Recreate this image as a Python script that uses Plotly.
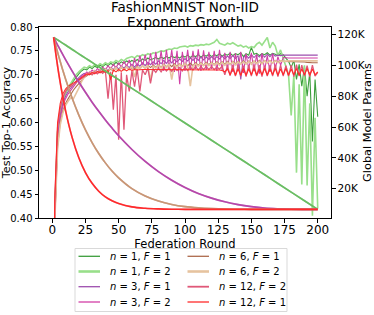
import plotly.graph_objects as go

# ---------------- data ----------------
rounds = list(range(0, 201, 2))

acc_n1_f1 = [0.10, 0.43, 0.585, 0.625, 0.648, 0.662, 0.672, 0.680, 0.688, 0.695,
             0.702, 0.708, 0.712, 0.710, 0.716, 0.713, 0.718, 0.715, 0.720, 0.717,
             0.722, 0.719, 0.724, 0.720, 0.726, 0.722, 0.727, 0.724, 0.729, 0.726,
             0.730, 0.727, 0.732, 0.728, 0.733, 0.730, 0.735, 0.731, 0.734, 0.736,
             0.733, 0.737, 0.734, 0.738, 0.735, 0.739, 0.736, 0.738, 0.735, 0.740,
             0.737, 0.741, 0.736, 0.740, 0.738, 0.742, 0.737, 0.741, 0.739, 0.743,
             0.738, 0.742, 0.740, 0.744, 0.739, 0.743, 0.741, 0.745, 0.740, 0.744,
             0.742, 0.746, 0.738, 0.744, 0.741, 0.757, 0.743, 0.745, 0.740, 0.744,
             0.742, 0.746, 0.741, 0.745, 0.743, 0.740, 0.744, 0.742, 0.735, 0.728,
             0.715, 0.730, 0.690, 0.722, 0.676, 0.718, 0.655, 0.705, 0.560, 0.690,
             0.612]

acc_n1_f2 = [0.10, 0.42, 0.580, 0.622, 0.646, 0.662, 0.673, 0.683, 0.692, 0.700,
             0.706, 0.712, 0.716, 0.714, 0.719, 0.716, 0.721, 0.718, 0.723, 0.720,
             0.725, 0.722, 0.727, 0.725, 0.730, 0.727, 0.732, 0.729, 0.734, 0.736,
             0.738, 0.735, 0.740, 0.738, 0.742, 0.740, 0.744, 0.742, 0.746, 0.745,
             0.748, 0.750, 0.749, 0.752, 0.754, 0.753, 0.756, 0.755, 0.758, 0.759,
             0.760, 0.758, 0.761, 0.760, 0.762, 0.761, 0.763, 0.762, 0.764, 0.763,
             0.765, 0.768, 0.774, 0.766, 0.764, 0.762, 0.766, 0.764, 0.767, 0.763,
             0.760, 0.762, 0.758, 0.760, 0.756, 0.759, 0.757, 0.764, 0.768, 0.762,
             0.770, 0.778, 0.756, 0.768, 0.760, 0.740, 0.752, 0.735, 0.722, 0.700,
             0.615, 0.700, 0.495, 0.680, 0.470, 0.720, 0.468, 0.640, 0.405, 0.610,
             0.420]

acc_n3_f1 = [0.10, 0.41, 0.570, 0.615, 0.640, 0.655, 0.665, 0.672, 0.680, 0.688,
             0.694, 0.699, 0.703, 0.700, 0.706, 0.703, 0.709, 0.706, 0.711, 0.708,
             0.713, 0.709, 0.715, 0.711, 0.717, 0.712, 0.718, 0.714, 0.720, 0.715,
             0.722, 0.716, 0.723, 0.718, 0.725, 0.719, 0.726, 0.721, 0.727, 0.722,
             0.729, 0.723, 0.730, 0.724, 0.731, 0.725, 0.732, 0.727, 0.733, 0.728,
             0.734, 0.729, 0.735, 0.730, 0.736, 0.730, 0.737, 0.731, 0.737, 0.732,
             0.738, 0.732, 0.738, 0.733, 0.739, 0.733, 0.739, 0.734, 0.740, 0.734,
             0.740, 0.690, 0.736, 0.741, 0.735, 0.742, 0.736, 0.742, 0.737, 0.743,
             0.737, 0.743, 0.738, 0.744, 0.739, 0.741, 0.740, 0.741, 0.741, 0.741,
             0.741, 0.741, 0.741, 0.741, 0.741, 0.741, 0.741, 0.741, 0.741, 0.741,
             0.741]

acc_n3_f2 = [0.10, 0.40, 0.565, 0.610, 0.635, 0.650, 0.660, 0.668, 0.676, 0.684,
             0.690, 0.696, 0.700, 0.706, 0.702, 0.710, 0.705, 0.713, 0.708, 0.716,
             0.710, 0.719, 0.712, 0.722, 0.714, 0.725, 0.716, 0.728, 0.718, 0.731,
             0.712, 0.735, 0.716, 0.740, 0.718, 0.742, 0.714, 0.745, 0.712, 0.748,
             0.710, 0.750, 0.708, 0.752, 0.712, 0.752, 0.706, 0.750, 0.680, 0.748,
             0.708, 0.752, 0.710, 0.750, 0.712, 0.753, 0.708, 0.751, 0.710, 0.748,
             0.712, 0.750, 0.708, 0.752, 0.710, 0.746, 0.712, 0.748, 0.706, 0.745,
             0.710, 0.748, 0.704, 0.744, 0.712, 0.746, 0.708, 0.742, 0.702, 0.745,
             0.710, 0.740, 0.706, 0.744, 0.712, 0.738, 0.720, 0.736, 0.735, 0.735,
             0.735, 0.735, 0.735, 0.735, 0.735, 0.735, 0.735, 0.735, 0.735, 0.735,
             0.735]

acc_n6_f1 = [0.10, 0.40, 0.550, 0.600, 0.625, 0.640, 0.650, 0.660, 0.668, 0.675,
             0.682, 0.688, 0.694, 0.698, 0.702, 0.700, 0.706, 0.703, 0.708, 0.705,
             0.710, 0.706, 0.712, 0.708, 0.714, 0.709, 0.715, 0.710, 0.716, 0.711,
             0.717, 0.712, 0.718, 0.713, 0.719, 0.714, 0.720, 0.715, 0.720, 0.716,
             0.721, 0.716, 0.722, 0.717, 0.722, 0.717, 0.723, 0.718, 0.723, 0.718,
             0.724, 0.719, 0.724, 0.719, 0.725, 0.720, 0.725, 0.720, 0.726, 0.721,
             0.726, 0.721, 0.727, 0.722, 0.727, 0.722, 0.728, 0.722, 0.728, 0.723,
             0.728, 0.723, 0.729, 0.723, 0.729, 0.724, 0.729, 0.724, 0.730, 0.724,
             0.730, 0.725, 0.730, 0.725, 0.730, 0.726, 0.729, 0.728, 0.728, 0.728,
             0.728, 0.728, 0.728, 0.728, 0.728, 0.727, 0.726, 0.725, 0.725, 0.725,
             0.725]

acc_n6_f2 = [0.10, 0.40, 0.545, 0.595, 0.620, 0.636, 0.645, 0.652, 0.650, 0.660,
             0.672, 0.685, 0.695, 0.700, 0.705, 0.702, 0.708, 0.704, 0.710, 0.706,
             0.712, 0.707, 0.714, 0.709, 0.715, 0.708, 0.716, 0.710, 0.717, 0.711,
             0.718, 0.695, 0.716, 0.712, 0.719, 0.713, 0.720, 0.688, 0.718, 0.714,
             0.720, 0.714, 0.721, 0.715, 0.722, 0.690, 0.721, 0.716, 0.722, 0.717,
             0.723, 0.717, 0.676, 0.718, 0.723, 0.718, 0.724, 0.719, 0.724, 0.719,
             0.725, 0.720, 0.725, 0.720, 0.726, 0.720, 0.726, 0.721, 0.727, 0.721,
             0.727, 0.722, 0.727, 0.722, 0.728, 0.722, 0.728, 0.723, 0.728, 0.723,
             0.729, 0.724, 0.729, 0.724, 0.729, 0.725, 0.729, 0.728, 0.729, 0.729,
             0.729, 0.729, 0.729, 0.729, 0.729, 0.729, 0.729, 0.729, 0.729, 0.729,
             0.729]

acc_n12_f2 = [0.10, 0.44, 0.590, 0.630, 0.652, 0.665, 0.672, 0.676, 0.680, 0.684,
              0.688, 0.692, 0.696, 0.700, 0.704, 0.700, 0.706, 0.702, 0.708, 0.703,
              0.709, 0.650, 0.706, 0.627, 0.700, 0.564, 0.705, 0.585, 0.700, 0.665,
              0.708, 0.675, 0.712, 0.665, 0.710, 0.700, 0.714, 0.682, 0.712, 0.705,
              0.714, 0.706, 0.715, 0.708, 0.714, 0.707, 0.716, 0.709, 0.715, 0.708,
              0.716, 0.709, 0.716, 0.710, 0.717, 0.710, 0.717, 0.711, 0.717, 0.711,
              0.717, 0.711, 0.716, 0.712, 0.718, 0.700, 0.719, 0.698, 0.720, 0.697,
              0.720, 0.697, 0.719, 0.696, 0.720, 0.697, 0.721, 0.697, 0.720, 0.696,
              0.719, 0.697, 0.720, 0.697, 0.721, 0.696, 0.720, 0.697, 0.719, 0.697,
              0.720, 0.696, 0.721, 0.697, 0.720, 0.697, 0.719, 0.696, 0.720, 0.697,
              0.705]

acc_n12_f1 = [0.10, 0.45, 0.600, 0.640, 0.660, 0.670, 0.676, 0.680, 0.683, 0.686,
              0.690, 0.694, 0.698, 0.702, 0.700, 0.705, 0.702, 0.707, 0.704, 0.708,
              0.705, 0.709, 0.690, 0.710, 0.706, 0.711, 0.707, 0.712, 0.708, 0.712,
              0.709, 0.711, 0.710, 0.711, 0.711, 0.711, 0.711, 0.711, 0.711, 0.711,
              0.711, 0.711, 0.711, 0.711, 0.711, 0.711, 0.711, 0.711, 0.711, 0.711,
              0.711, 0.711, 0.711, 0.711, 0.711, 0.711, 0.711, 0.711, 0.711, 0.711,
              0.711, 0.711, 0.711, 0.710, 0.709, 0.706, 0.712, 0.700, 0.713, 0.699,
              0.712, 0.699, 0.713, 0.699, 0.712, 0.700, 0.713, 0.699, 0.712, 0.700,
              0.713, 0.699, 0.712, 0.700, 0.713, 0.699, 0.712, 0.700, 0.713, 0.699,
              0.712, 0.700, 0.713, 0.699, 0.712, 0.700, 0.713, 0.699, 0.712, 0.700,
              0.706]

param_rounds = [1, 5, 10, 15, 20, 25, 30, 35, 40, 45, 50, 60, 70, 80, 90, 100,
                110, 120, 130, 140, 150, 160, 170, 180, 190, 200]
params_n1 = [118.3, 116.1, 113.3, 110.4, 107.6, 104.8, 102.0, 99.2, 96.4, 93.6, 90.8,
             85.2, 79.6, 74.0, 68.3, 62.7, 57.1, 51.5, 45.9, 40.3, 34.7, 29.1, 23.4,
             17.8, 12.2, 6.6]
params_n3 = [118.3, 111.7, 103.8, 96.4, 89.3, 82.6, 76.2, 70.3, 64.7, 59.4, 54.4,
             45.5, 37.7, 31.1, 25.5, 20.8, 16.9, 13.9, 11.5, 9.7, 8.4, 7.5, 7.0,
             6.7, 6.6, 6.6]
params_n6 = [118.3, 105.5, 91.2, 78.7, 67.8, 58.2, 50.0, 42.9, 36.8, 31.5, 27.1,
             20.1, 15.3, 12.0, 9.8, 8.4, 7.6, 7.1, 6.8, 6.7, 6.6, 6.6, 6.6, 6.6,
             6.6, 6.6]
params_n12 = [118.3, 94.1, 70.7, 53.2, 40.1, 30.5, 23.5, 18.4, 14.7, 12.2, 10.4,
              8.2, 7.3, 6.9, 6.7, 6.6, 6.6, 6.6, 6.6, 6.6, 6.6, 6.6, 6.6, 6.6,
              6.6, 6.6]

x_ticks = [0, 25, 50, 75, 100, 125, 150, 175, 200]
y_ticks = [0.40, 0.45, 0.50, 0.55, 0.60, 0.65, 0.70, 0.75, 0.80]
y2_ticks = [20000, 40000, 60000, 80000, 100000, 120000]
y2_labels = ["20K", "40K", "60K", "80K", "100K", "120K"]

labels = ["n1f1", "n1f2", "n3f1", "n3f2", "n6f1", "n6f2", "n12f2", "n12f1"]
names = {
    "n1f1": "<i>n</i> = 1, <i>F</i> = 1",
    "n1f2": "<i>n</i> = 1, <i>F</i> = 2",
    "n3f1": "<i>n</i> = 3, <i>F</i> = 1",
    "n3f2": "<i>n</i> = 3, <i>F</i> = 2",
    "n6f1": "<i>n</i> = 6, <i>F</i> = 1",
    "n6f2": "<i>n</i> = 6, <i>F</i> = 2",
    "n12f2": "<i>n</i> = 12, <i>F</i> = 2",
    "n12f1": "<i>n</i> = 12, <i>F</i> = 1",
}
acc = {"n1f1": acc_n1_f1, "n1f2": acc_n1_f2, "n3f1": acc_n3_f1, "n3f2": acc_n3_f2,
       "n6f1": acc_n6_f1, "n6f2": acc_n6_f2, "n12f2": acc_n12_f2, "n12f1": acc_n12_f1}
params = {"n1f1": params_n1, "n1f2": params_n1, "n3f1": params_n3, "n3f2": params_n3,
          "n6f1": params_n6, "n6f2": params_n6, "n12f2": params_n12, "n12f1": params_n12}

# ---------------- styles ----------------
colors = {"n1f1": "#3c9e3c", "n1f2": "#98df8a", "n3f1": "#9d4fae", "n3f2": "#d23fa6",
          "n6f1": "#ad6a4c", "n6f2": "#e6c39f", "n12f2": "#e05878", "n12f1": "#ff2a2a"}
widths = {"n1f1": 1.1, "n1f2": 1.6, "n3f1": 1.1, "n3f2": 1.1,
          "n6f1": 1.1, "n6f2": 1.6, "n12f2": 1.3, "n12f1": 1.1}
legend_widths = {"n1f1": 1.3, "n1f2": 2.6, "n3f1": 1.3, "n3f2": 1.3,
                 "n6f1": 1.3, "n6f2": 2.6, "n12f2": 1.8, "n12f1": 1.3}

FONT = "DejaVu Sans"
W, H = 374, 315
ML, MR, MT, MB = 39, 43, 27, 97
PW, PH = W - ML - MR, H - MT - MB


def px_x(p):
    return (p - ML) / PW


def px_y(p):
    return (H - MB - p) / PH


fig = go.Figure()

for k in labels:
    fig.add_trace(go.Scatter(
        x=rounds, y=acc[k], mode="lines", name=names[k],
        line=dict(color=colors[k], width=widths[k]),
        legendgroup=k, showlegend=False, yaxis="y", hoverinfo="skip"))

# parameter curves: F=1 drawn first, F=2 blended on top
for k in labels:
    fig.add_trace(go.Scatter(
        x=param_rounds, y=[v * 1000 for v in params[k]], mode="lines",
        name=names[k] + " params",
        line=dict(color=colors[k], width=1.6, shape="spline"),
        legendgroup=k, showlegend=False, yaxis="y2",
        opacity=1.0 if k.endswith("f1") else 0.5, hoverinfo="skip"))

# ---------------- legend (matplotlib-like box, two columns) ----------------
legend_cols = [["n1f1", "n1f2", "n3f1", "n3f2"], ["n6f1", "n6f2", "n12f2", "n12f1"]]
col_line_x = [(78.5, 100.0), (187.5, 209.0)]
col_text_x = [107.5, 216.5]
row_y = [256.3, 271.5, 286.7, 302.0]

shapes = [dict(type="rect", xref="paper", yref="paper",
               x0=px_x(75), x1=px_x(287), y0=px_y(311.5), y1=px_y(248.5),
               line=dict(color="#d9d9d9", width=1), fillcolor="white", layer="above")]
annotations = []
for ci, col in enumerate(legend_cols):
    for ri, k in enumerate(col):
        shapes.append(dict(type="line", xref="paper", yref="paper",
                           x0=px_x(col_line_x[ci][0]), x1=px_x(col_line_x[ci][1]),
                           y0=px_y(row_y[ri]), y1=px_y(row_y[ri]),
                           line=dict(color=colors[k], width=legend_widths[k]),
                           layer="above"))
        annotations.append(dict(text=names[k], xref="paper", yref="paper",
                                x=px_x(col_text_x[ci]), y=px_y(row_y[ri]),
                                xanchor="left", yanchor="middle", showarrow=False,
                                font=dict(family=FONT, size=10, color="black")))

annotations += [
    dict(text="FashionMNIST Non-IID", xref="paper", yref="paper", x=0.5, y=px_y(7.5),
         xanchor="center", yanchor="middle", showarrow=False,
         font=dict(family=FONT, size=13.5, color="black")),
    dict(text="Exponent Growth", xref="paper", yref="paper", x=0.5, y=px_y(22.0),
         xanchor="center", yanchor="middle", showarrow=False,
         font=dict(family=FONT, size=13.5, color="black")),
]

axis_common = dict(showline=True, linecolor="black", linewidth=1,
                   ticks="outside", ticklen=3.5, tickwidth=0.8, tickcolor="black",
                   showgrid=False, zeroline=False, automargin=False)

fig.update_layout(
    width=W, height=H,
    margin=dict(l=ML, r=MR, t=MT, b=MB),
    paper_bgcolor="white", plot_bgcolor="white",
    font=dict(family=FONT, size=11, color="black"),
    showlegend=False,
    xaxis=dict(range=[-10, 210], tickvals=x_ticks, mirror=True,
               title=dict(text="Federation Round", font=dict(size=11.5), standoff=0),
               tickfont=dict(size=12), ticklabelstandoff=-3, **axis_common),
    yaxis=dict(range=[0.4, 0.8], tickvals=y_ticks, tickformat=".2f", mirror=True,
               title=dict(text="Test Top-1 Accuracy", font=dict(size=11.3), standoff=1),
               tickfont=dict(size=10), **axis_common),
    yaxis2=dict(range=[1000, 125000], overlaying="y", side="right",
                tickvals=y2_ticks, ticktext=y2_labels,
                title=dict(text="Global Model Params", font=dict(size=11.3), standoff=1),
                tickfont=dict(size=10.5), **axis_common),
    shapes=shapes,
    annotations=annotations,
)

fig.write_html("out.html",
               config={"displayModeBar": False},
               post_script="document.body.style.margin='0px';"
                           "document.body.style.overflow='hidden';")
